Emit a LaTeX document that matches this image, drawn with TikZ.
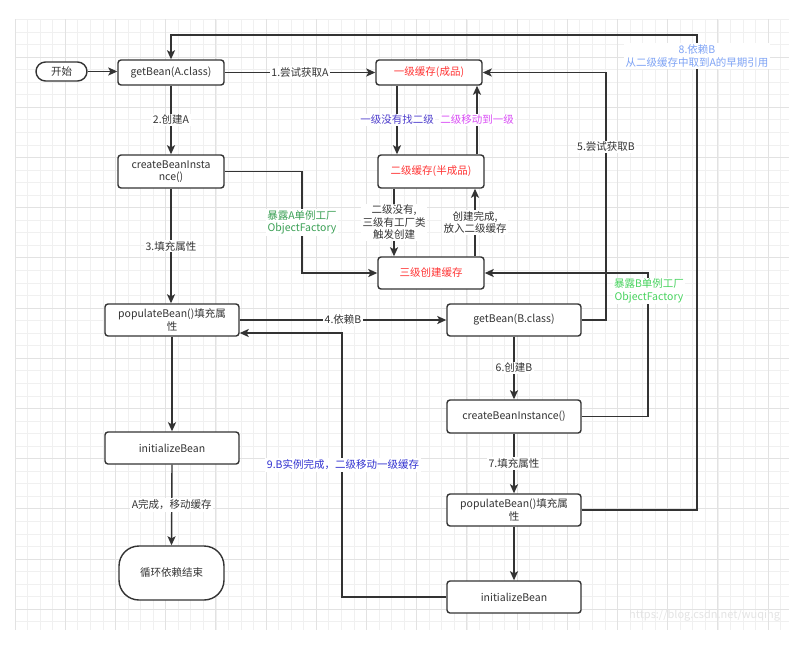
\documentclass[tikz,border=0pt]{standalone}
\usepackage{fontspec}
\setmainfont{Noto Sans CJK SC}
\usetikzlibrary{arrows.meta}
\definecolor{ln}{HTML}{333333}
\definecolor{txt}{HTML}{333333}
\definecolor{gminorc}{HTML}{F0F0F0}
\definecolor{gmajorc}{HTML}{E2E2E2}
\definecolor{redc}{HTML}{FF3333}
\definecolor{purpc}{HTML}{4D3DCC}
\definecolor{magc}{HTML}{D94CF5}
\definecolor{greenA}{HTML}{3BA055}
\definecolor{greenB}{HTML}{47D35E}
\definecolor{blueE}{HTML}{7EA3F5}
\definecolor{blueN}{HTML}{3030D0}
\definecolor{wmark}{HTML}{E4E4E4}
\tikzset{
  box/.style={draw=ln, line width=1.4pt, fill=white, rounded corners=3pt, align=center,
    text=txt, inner sep=1pt, font=\fontsize{10.5}{12.5}\selectfont},
  arr/.style={draw=ln, line width=1.4pt, -{Stealth[length=9pt,width=8pt,inset=2pt]}},
  plain/.style={draw=ln, line width=1.4pt},
  elab/.style={fill=white, inner sep=1.5pt, text=txt, align=center,
    font=\fontsize{10.5}{12.5}\selectfont},
  gminor/.style={draw=gminorc, line width=0.6pt},
  gmajor/.style={draw=gmajorc, line width=0.7pt}
}
\begin{document}
\begin{tikzpicture}[x=1pt,y=-1pt]
\clip (0,0) rectangle (789,651);
\useasboundingbox (0,0) rectangle (789,651);
\fill[white] (0,0) rectangle (789,651);
% grid
\foreach \i in {0,...,61} {
  \pgfmathsetmacro\gx{15+12.55*\i}
  \draw[gminor] (\gx,19.3) -- (\gx,630);
}
\foreach \i in {0,...,48} {
  \pgfmathsetmacro\gy{19.3+12.55*\i}
  \draw[gminor] (15,\gy) -- (789,\gy);
}
\foreach \i in {0,...,15} {
  \pgfmathsetmacro\gx{15+50.2*\i}
  \draw[gmajor] (\gx,19.3) -- (\gx,630);
}
\foreach \i in {0,...,11} {
  \pgfmathsetmacro\gy{57+50.2*\i}
  \draw[gmajor] (15,\gy) -- (789,\gy);
}
% watermark
\node[anchor=west, text=wmark, inner sep=0pt, font=\fontsize{11}{13}\selectfont] (wm) at (629,615) {https://blog.csdn.net/wuqing};

% nodes
\node[box, minimum width=51pt, minimum height=19pt, rounded corners=9.5pt] (start) at (61.5,71.5) {开始};
\node[box, minimum width=106pt, minimum height=25pt] (gA) at (171,72.5) {getBean(A.class)};
\node[box, minimum width=106pt, minimum height=25pt, text=redc] (c1) at (429,72.5) {一级缓存(成品)};
\node[box, minimum width=106pt, minimum height=33pt, text=redc] (c2) at (431,171.5) {二级缓存(半成品)};
\node[box, minimum width=106pt, minimum height=32pt, text=redc] (c3) at (431,273) {三级创建缓存};
\node[box, minimum width=106pt, minimum height=33pt] (cA) at (171,171.5) {createBeanInsta\\nce()};
\node[box, minimum width=134pt, minimum height=32pt] (pA) at (172,320) {populateBean()填充属\\性};
\node[box, minimum width=134pt, minimum height=32pt] (iA) at (172,448) {initializeBean};
\node[box, minimum width=105pt, minimum height=54pt, rounded corners=20pt] (endA) at (171.5,573) {循环依赖结束};
\node[box, minimum width=134pt, minimum height=32pt] (gB) at (514,320) {getBean(B.class)};
\node[box, minimum width=134pt, minimum height=33pt] (cB) at (514,416.5) {createBeanInstance()};
\node[box, minimum width=134pt, minimum height=32pt] (pB) at (514,510) {populateBean()填充属\\性};
\node[box, minimum width=134pt, minimum height=32pt] (iB) at (514,597) {initializeBean};

% routing coordinates
\coordinate (xL12) at (397,0);
\coordinate (xL21) at (477,0);
\coordinate (xL23) at (394,0);
\coordinate (xL32) at (475,0);
\coordinate (xA) at (302,0);
\coordinate (x5) at (606,0);
\coordinate (xB) at (648,0);
\coordinate (x8) at (697,0);
\coordinate (y8) at (0,35);
\coordinate (x9) at (342,0);
\coordinate (y9) at (0,333);

% connectors
\draw[arr] (start.east) -- (start.east -| gA.west);
\draw[arr] (gA.east) -- node[elab]{1.尝试获取A} (c1.west);
\draw[arr] (gA.south) -- node[elab]{2.创建A} (cA.north);
\draw[arr] (cA.south) -- node[elab]{3.填充属性} (cA.south |- pA.north);
\draw[arr] (cA.east) -- (cA.east -| xA) -- node[elab, text=greenA]{暴露A单例工厂\\ObjectFactory} (c3.west -| xA) -- (c3.west);
\draw[arr] (c1.south -| xL12) -- node[elab, text=purpc]{一级没有找二级} (c2.north -| xL12);
\draw[arr] (c2.north -| xL21) -- node[elab, text=magc]{二级移动到一级} (c1.south -| xL21);
\draw[arr] (c2.south -| xL23) -- node[elab]{二级没有,\\三级有工厂类\\触发创建} (c3.north -| xL23);
\draw[arr] (c3.north -| xL32) -- node[elab]{创建完成,\\放入二级缓存} (c2.south -| xL32);
\draw[arr] (pA.east) -- node[elab]{4.依赖B} (gB.west);
\draw[arr] (gB.east) -- (gB.east -| x5) -- (c1.east -| x5) -- (c1.east);
\node[elab] (l5) at (606,147) {5.尝试获取B};
\draw[arr] (gB.south) -- node[elab]{6.创建B} (cB.north);
\draw[arr] (cB.east) -- (cB.east -| xB) -- (c3.east -| xB) -- (c3.east);
\node[elab, text=greenB] (lB) at (649,291) {暴露B单例工厂\\ObjectFactory};
\draw[arr] (cB.south) -- node[elab]{7.填充属性} (pB.north);
\draw[arr] (pB.east) -- (pB.east -| x8) -- (x8 |- y8) -- (gA.north |- y8) -- (gA.north);
\node[elab, text=blueE] (l8) at (697,56) {8.依赖B\\从二级缓存中取到A的早期引用};
\draw[arr] (pB.south) -- (iB.north);
\draw[arr] (iB.west) -- (iB.west -| x9) -- (x9 |- y9) -- (pA.east |- y9);
\node[elab, text=blueN] (l9) at (343,465) {9.B实例完成，二级移动一级缓存};
\draw[arr] (pA.south) -- (iA.north);
\draw[arr] (iA.south) -- node[elab]{A完成，移动缓存} (endA.north);
\end{tikzpicture}
\end{document}
